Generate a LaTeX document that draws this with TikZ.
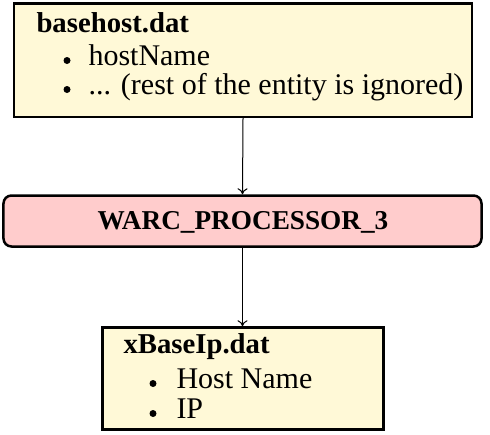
\documentclass[tikz,border=0pt]{standalone}
\usepackage{fontspec}
\setmainfont{Liberation Serif}
\usetikzlibrary{arrows.meta}
\definecolor{boxyellow}{RGB}{255,249,215}
\definecolor{boxpink}{RGB}{255,204,204}
\tikzset{
  databox/.style={draw=black, line width=1pt, fill=boxyellow, inner sep=0pt},
  procbox/.style={draw=black, line width=1pt, fill=boxpink, rounded corners=3.2pt, inner sep=0pt},
  txt/.style={anchor=base west, inner sep=0pt, font=\fontsize{12}{14}\selectfont},
  head/.style={anchor=base west, inner sep=0pt, font=\fontsize{11.5}{14}\selectfont\bfseries},
  ctxt/.style={anchor=base, inner sep=0pt, font=\fontsize{10.9}{13}\selectfont\bfseries},
  bul/.style={circle, fill=black, inner sep=0pt, minimum size=2.8pt},
  flow/.style={-{To[length=2.4pt,width=4pt]}, line width=0.4pt}
}
\begin{document}
\begin{tikzpicture}[x=0.4pt, y=-0.4pt]
\useasboundingbox (0,0) rectangle (490,434);
% boxes
\node[databox, minimum width=183pt, minimum height=45.4pt] (top) at (243,60) {};
\node[procbox, minimum width=191.2pt, minimum height=20.4pt] (mid) at (242.5,221) {};
\node[databox, minimum width=112.4pt, minimum height=40.8pt] (bot) at (243,378.5) {};
% top box text
\node[head] (th) at (36,32) {basehost.dat};
\node[bul] (tb1) at (67,60.5) {};
\node[txt] (ti1) at (88,65) {hostName};
\node[bul] (tb2) at (67,89.5) {};
\node[txt] (ti2) at (88,94) {... (rest of the entity is ignored)};
% mid text
\node[ctxt] (mt) at (243,229) {WARC\_PROCESSOR\_3};
% bottom box text
\node[head] (bh) at (123,353) {xBaseIp.dat};
\node[bul] (bb1) at (153,383.5) {};
\node[txt] (bi1) at (176,388) {Host Name};
\node[bul] (bb2) at (153,413.5) {};
\node[txt] (bi2) at (176,418) {IP};
% connectors
\draw[flow] (top.south) -- (mid.north);
\draw[flow] (mid.south) -- (mid.south |- bot.north);
\end{tikzpicture}
\end{document}
